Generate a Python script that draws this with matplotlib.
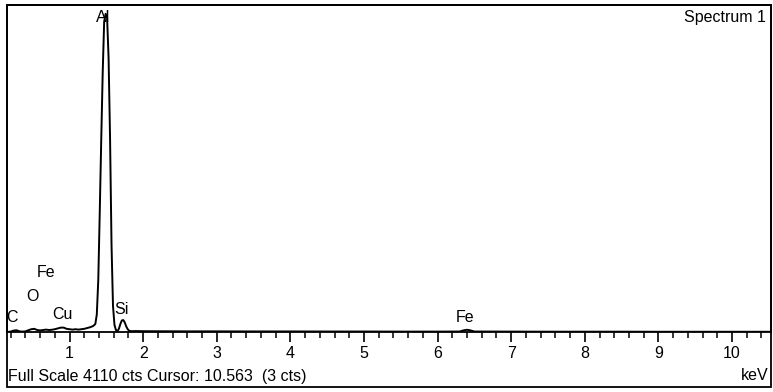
import matplotlib
matplotlib.use("Agg")
import matplotlib.pyplot as plt
from matplotlib.patches import Rectangle

plt.rcParams['font.family'] = ['Liberation Sans', 'DejaVu Sans']

# spectrum (keV, counts)
energy = [0.15, 0.20, 0.24, 0.28, 0.32, 0.36, 0.40, 0.44, 0.48, 0.52, 0.56, 0.60,
          0.64, 0.68, 0.72, 0.76, 0.80, 0.84, 0.88, 0.92, 0.96, 1.00, 1.04, 1.08,
          1.12, 1.16, 1.20, 1.24, 1.28, 1.32, 1.35, 1.37, 1.39, 1.41, 1.43, 1.45,
          1.47, 1.49, 1.51, 1.53, 1.55, 1.57, 1.59, 1.61, 1.63, 1.65, 1.67, 1.69,
          1.71, 1.73, 1.75, 1.77, 1.79, 1.81, 1.84, 1.90, 2.0, 2.3, 2.6, 3.0,
          3.5, 4.0, 4.5, 5.0, 5.5, 6.0, 6.30, 6.36, 6.40, 6.44, 6.50, 7.0,
          7.5, 8.0, 8.5, 9.0, 9.5, 10.0, 10.53]
counts = [0, 5, 18, 22, 8, 5, 8, 22, 35, 40, 25, 20,
          25, 30, 25, 28, 35, 45, 55, 55, 40, 35, 30, 35,
          30, 35, 40, 50, 60, 75, 100, 220, 650, 1500, 2400, 3250,
          3900, 4000, 3950, 3450, 2450, 1100, 330, 90, 25, 10, 40, 100,
          145, 150, 120, 70, 35, 15, 10, 12, 10, 9, 8, 8,
          7, 7, 6, 6, 5, 5, 6, 22, 28, 22, 6, 5,
          4, 4, 4, 3, 3, 3, 3]

labels = ['C', 'O', 'Fe', 'Cu', 'Al', 'Si', 'Fe']
label_x = [0.22, 0.49, 0.68, 0.90, 1.45, 1.70, 6.37]
label_y = [176, 440, 754, 226, 3947, 277, 176]

full_scale = 4110

fig = plt.figure(figsize=(7.73, 3.92), dpi=100)
ax = fig.add_axes([7 / 773, (392 - 332) / 392, 764 / 773, 327 / 392])
ax.plot(energy, counts, color='black', linewidth=1.4)
ax.set_xlim(0.15, 10.53)
ax.set_ylim(0, full_scale)

for s in ax.spines.values():
    s.set_linewidth(1.3)
ax.set_yticks([])
ax.set_xticks(range(1, 11))
ax.set_xticks([x / 5 for x in range(1, 53)], minor=True)
ax.tick_params(axis='x', which='major', direction='out', length=7, width=1.2,
               labelsize=11.5, pad=3, colors='black')
ax.tick_params(axis='x', which='minor', direction='out', length=4, width=1.1)

for t, x, y in zip(labels, label_x, label_y):
    ax.text(x, y, t, ha='center', va='center', fontsize=11.5)

ax.text(0.993, 0.985, 'Spectrum 1', transform=ax.transAxes, ha='right', va='top',
        fontsize=11.5)

fig.patches.append(Rectangle((7 / 773, (392 - 387) / 392), 764 / 773, 382 / 392,
                             transform=fig.transFigure, fill=False,
                             edgecolor='black', linewidth=1.3))
fig.text(8 / 773, 1 - 376 / 392, 'Full Scale 4110 cts Cursor: 10.563  (3 cts)',
         ha='left', va='center', fontsize=11.5)
fig.text(769 / 773, 1 - 376 / 392, 'keV', ha='right', va='center', fontsize=11.5)

fig.savefig('out.png', dpi=100)
